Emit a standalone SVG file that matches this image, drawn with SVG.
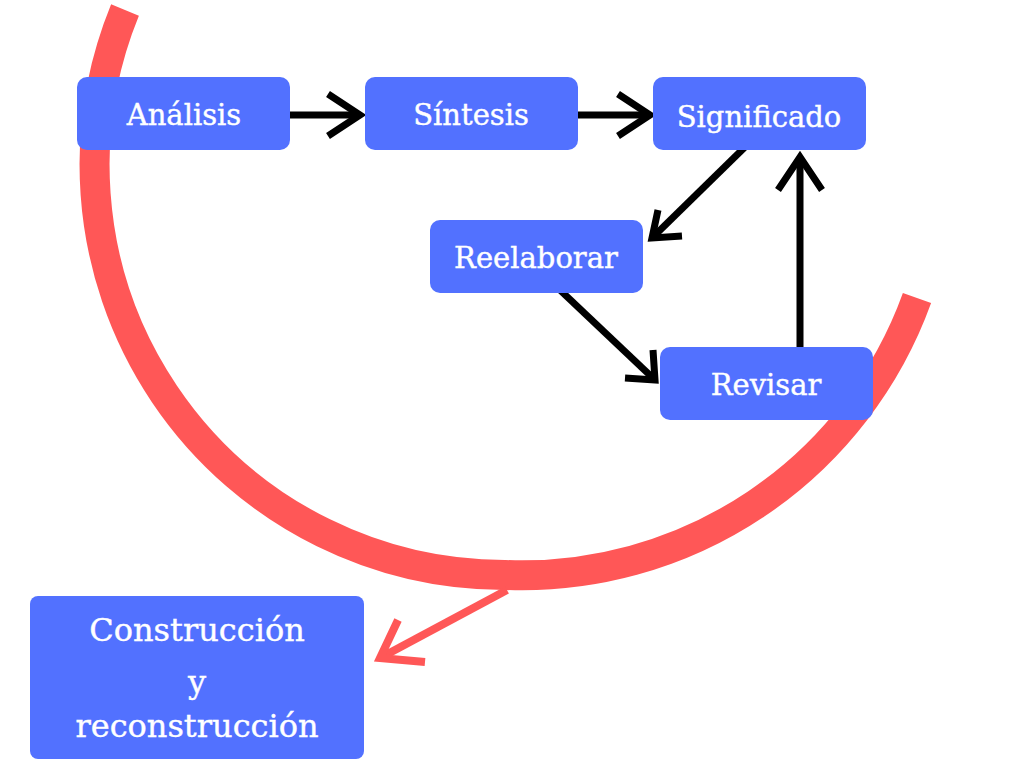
<svg xmlns="http://www.w3.org/2000/svg" width="1024" height="768" viewBox="0 0 1024 768">
<defs>
<style>
.n rect{fill:#5271ff}
.n text{fill:#fff;font-family:"DejaVu Serif","Liberation Serif",serif;font-size:29px;text-anchor:middle;stroke:#fff;stroke-width:0.4}
.n text.b{font-size:32px}
.c{stroke:#000;stroke-width:7;fill:none}
</style>
</defs>
<rect width="1024" height="768" fill="#fff"/>
<path d="M125,10 A410,410 0 0 0 505,575 A420,420 0 0 0 917,298" fill="none" stroke="#ff5757" stroke-width="30"/>
<g id="connectors">
<line class="c" x1="290" y1="115" x2="360" y2="115"/>
<path class="c" d="M328,94 L360,115 L328,136"/>
<line class="c" x1="578" y1="115" x2="650" y2="115"/>
<path class="c" d="M618,94 L650,115 L618,136"/>
<line class="c" x1="745" y1="147" x2="652" y2="238"/>
<path class="c" d="M658,210 L652,238 L682,236"/>
<line class="c" x1="560" y1="290" x2="655" y2="380"/>
<path class="c" d="M625,378 L655,380 L653,350"/>
<line class="c" x1="800" y1="348" x2="800" y2="157"/>
<path class="c" d="M778,190 L800,157 L822,190"/>
<line x1="507" y1="590" x2="380" y2="658" stroke="#ff5757" stroke-width="8"/>
<path d="M398,620 L380,658 L425,662" fill="none" stroke="#ff5757" stroke-width="8"/>
</g>
<g id="analisis" class="n"><rect x="77" y="77" width="213" height="73" rx="10"/><text x="184" y="125">Análisis</text></g>
<g id="sintesis" class="n"><rect x="365" y="77" width="213" height="73" rx="10"/><text x="471" y="125">Síntesis</text></g>
<g id="significado" class="n"><rect x="653" y="77" width="213" height="73" rx="10"/><text x="759" y="127">Significado</text></g>
<g id="reelaborar" class="n"><rect x="430" y="220" width="213" height="73" rx="10"/><text x="536" y="268">Reelaborar</text></g>
<g id="revisar" class="n"><rect x="660" y="347" width="213" height="73" rx="10"/><text x="766" y="395">Revisar</text></g>
<g id="construccion" class="n"><rect x="30" y="596" width="334" height="163" rx="8"/><text class="b" x="197" y="641">Construcción</text><text class="b" x="197" y="693">y</text><text class="b" x="197" y="737">reconstrucción</text></g>
</svg>
